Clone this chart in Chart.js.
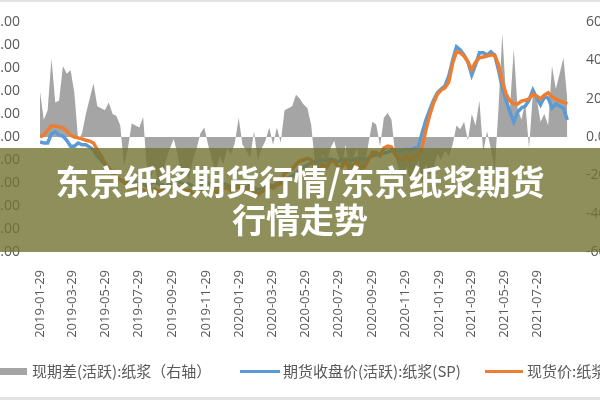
<!DOCTYPE html>
<html>
<head>
<meta charset="utf-8">
<script src="https://cdn.jsdelivr.net/npm/chart.js@4.4.0/dist/chart.umd.min.js"></script>
<style>
  html, body { margin: 0; padding: 0; background: #fff; }
  #wrap { position: relative; width: 600px; height: 400px; overflow: hidden; background: #fff; }
  #c { position: absolute; left: -40px; top: 0; }
  .lg { position: absolute; font: 15px "Noto Sans CJK SC", "Noto Sans", sans-serif; color: #595959; line-height: 20px; white-space: nowrap; }
  .mk { position: absolute; }
  #banner { position: absolute; left: 0; top: 148px; width: 600px; height: 104px;
    background: rgba(115, 115, 50, 0.8); color: #fff; display: flex; align-items: center; justify-content: center;
    text-align: center; font: bold 34px "Noto Sans CJK SC", sans-serif; line-height: 38px; }
  .edge { position: absolute; left: 0; width: 600px; background: #e3e3e3; }
</style>
</head>
<body>
<div id="wrap">
  <canvas id="c" width="680" height="400"></canvas>
  <div class="edge" style="top:0;height:2px"></div>
  <div class="edge" style="top:397px;height:3px"></div>
  <div id="banner">东京纸浆期货行情/东京纸浆期货<br>行情走势</div>
  <div class="mk" style="left:-3px;top:368px;width:30px;height:7px;background:#a5a5a5"></div>
  <div class="lg" style="left:32px;top:361px">现期差(活跃):纸浆（右轴）</div>
  <div class="mk" style="left:240px;top:370px;width:40px;height:3px;background:#5b9bd5"></div>
  <div class="lg" style="left:283px;top:361px">期货收盘价(活跃):纸浆(SP)</div>
  <div class="mk" style="left:485px;top:370px;width:38px;height:3px;background:#ed7d31"></div>
  <div class="lg" style="left:527px;top:361px">现货价:纸浆</div>
</div>
<script>
// weekly samples starting 2019-01-29
var startDate = '2019-01-29';
var stepDays = 7;

var tickLabels = ['2019-01-29','2019-03-29','2019-05-29','2019-07-29','2019-09-29','2019-11-29',
  '2020-01-29','2020-03-29','2020-05-29','2020-07-29','2020-09-29','2020-11-29',
  '2021-01-29','2021-03-29','2021-05-29','2021-07-29'];

// 期货收盘价(活跃):纸浆(SP)
var futures = [
  4890,4870,4870,5070,5110,5040,5020,4930,4800,4800,
  4870,4830,4830,4780,4720,4590,4500,4390,4280,4200,
  4110,4070,4020,4000,3980,4020,3960,3980,3930,4000,
  4020,3980,3960,3910,3980,4000,4040,4000,3960,3980,
  3930,3890,3960,3980,4000,3960,3910,3930,3980,3960,
  3910,3930,3930,3890,3910,3960,3890,3850,3870,3910,
  3960,3930,3980,4020,4070,4110,4150,4220,4280,4350,
  4390,4430,4460,4480,4500,4480,4520,4500,4460,4500,
  4520,4480,4500,4540,4520,4500,4540,4590,4610,4630,
  4650,4670,4700,4720,4700,4720,4740,4720,4760,4780,
  5090,5370,5590,5800,5960,6040,6110,6330,6670,6960,
  6890,6780,6630,6350,6570,6830,6830,6780,6850,6780,
  6460,6070,5800,5540,5330,5540,5630,5670,5800,6020,
  5850,5700,5870,5850,5630,5720,5670,5630,5370
];

// 现货价:纸浆
var spot = [
  5000,5040,5150,5240,5240,5220,5200,5130,5040,5000,
  4980,4960,4930,4910,4870,4720,4590,4430,4330,4220,
  4130,4070,4020,3910,3890,3930,3850,3850,3800,3850,
  3870,3800,3850,3850,3870,3930,3930,3890,3830,3850,
  3760,3780,3830,3890,3910,3870,3800,3850,3890,3890,
  3830,3870,3930,3850,3850,3890,3850,3740,3800,3870,
  3930,3890,3960,3980,4220,4260,4300,4410,4480,4500,
  4540,4500,4300,4280,4410,4330,4460,4480,4350,4350,
  4480,4300,4390,4480,4330,4350,4520,4670,4670,4590,
  4760,4800,4780,4610,4520,4500,4590,4480,4570,4610,
  4780,5150,5480,5740,5930,6020,6070,6200,6610,6850,
  6830,6760,6630,6460,6630,6720,6740,6760,6780,6780,
  6570,6200,5930,5780,5720,5720,5780,5800,5830,5930,
  5890,5830,5910,5960,5870,5830,5780,5760,5720
];

// 现期差(活跃):纸浆（右轴）
var spread = [
  236,90,140,410,180,190,370,330,350,230,
  -20,20,120,200,280,160,150,140,180,120,
  110,60,-150,-60,70,60,50,105,-180,-220,
  -150,-250,-200,-120,-60,-10,-90,-200,-160,-230,
  -120,-60,20,50,-40,-120,-180,-100,-140,-60,
  -90,-30,100,-40,-70,-110,30,-120,-60,-20,
  50,-40,50,-30,140,150,160,220,200,170,
  150,60,-150,-200,-90,-160,-60,-20,-100,-150,
  -40,-180,-110,-60,-200,-150,-30,80,65,-50,
  100,125,90,-100,-180,-220,-150,-250,-200,-120,
  -250,-140,-200,-160,-90,-120,-70,-100,-40,60,
  40,80,-20,120,60,190,-80,30,-60,-180,
  150,540,200,150,460,150,90,180,-60,230,
  200,80,120,60,370,250,330,413,200
];

function dayOf(s) {
  var a = s.split('-').map(Number), b = startDate.split('-').map(Number);
  return (Date.UTC(a[0], a[1] - 1, a[2]) - Date.UTC(b[0], b[1] - 1, b[2])) / 86400000;
}
var tickDays = tickLabels.map(dayOf);

function pts(arr) {
  return arr.map(function (v, i) { return { x: i * stepDays, y: v }; });
}
function fmt(v) {
  return v.toLocaleString('en-US', { minimumFractionDigits: 2, maximumFractionDigits: 2 });
}

var tickFont = { family: '"Open Sans", "Noto Sans", sans-serif', size: 13 };

new Chart(document.getElementById('c').getContext('2d'), {
  type: 'line',
  data: {
    datasets: [{
      label: '现货价:纸浆',
      data: pts(spot),
      borderColor: '#ed7d31',
      borderWidth: 3.5,
      pointRadius: 0,
      fill: false,
      yAxisID: 'y',
      order: 0
    }, {
      label: '期货收盘价(活跃):纸浆(SP)',
      data: pts(futures),
      borderColor: '#5b9bd5',
      borderWidth: 3.5,
      pointRadius: 0,
      fill: false,
      yAxisID: 'y',
      order: 1
    }, {
      label: '现期差(活跃):纸浆（右轴）',
      data: pts(spread),
      borderWidth: 0,
      borderColor: 'rgba(0,0,0,0)',
      backgroundColor: '#a5a5a5',
      pointRadius: 0,
      fill: 'origin',
      yAxisID: 'y1',
      order: 2
    }]
  },
  options: {
    responsive: false,
    animation: false,
    layout: { padding: { top: 22, bottom: 0, left: 0, right: 0 } },
    plugins: { legend: { display: false }, tooltip: { enabled: false } },
    scales: {
      x: {
        type: 'linear',
        min: 0,
        max: 971,
        grid: { display: false },
        border: { display: false },
        afterBuildTicks: function (scale) {
          scale.ticks = tickDays.map(function (d) { return { value: d }; });
        },
        afterFit: function (scale) { scale.height = 148; },
        ticks: {
          autoSkip: false,
          minRotation: 90,
          maxRotation: 90,
          padding: 10,
          color: '#595959',
          font: tickFont,
          callback: function (v) { return tickLabels[tickDays.indexOf(v)]; }
        }
      },
      y: {
        position: 'left',
        min: 2500,
        max: 7500,
        grid: { display: false },
        border: { display: false },
        afterFit: function (scale) { scale.width = 80; },
        ticks: { stepSize: 500, padding: 12, color: '#595959', font: { family: tickFont.family, size: 14 }, callback: fmt }
      },
      y1: {
        position: 'right',
        min: -600,
        max: 600,
        grid: { display: false },
        border: { display: false },
        afterFit: function (scale) { scale.width = 70; },
        ticks: { stepSize: 200, padding: 8, color: '#595959', font: { family: tickFont.family, size: 14 }, callback: fmt }
      }
    }
  }
});
</script>
</body>
</html>
